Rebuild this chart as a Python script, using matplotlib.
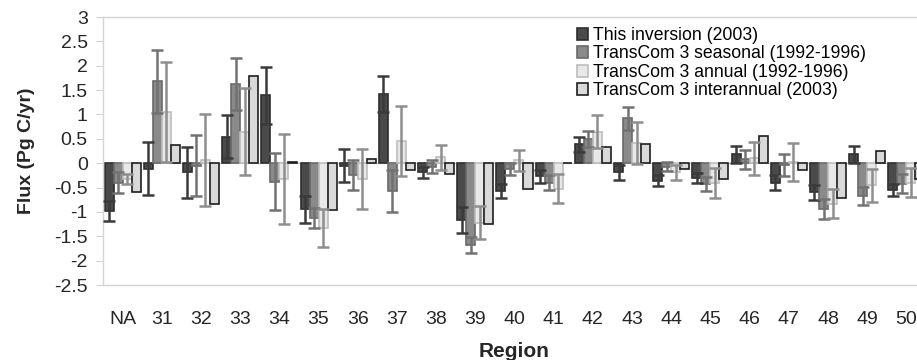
#! /usr/bin/env python3
import numpy as np
import matplotlib.pyplot as plt

plt.rcParams['font.family'] = ['Liberation Sans', 'DejaVu Sans']

regions = ["NA", "31", "32", "33", "34", "35", "36", "37", "38", "39", "40",
           "41", "42", "43", "44", "45", "46", "47", "48", "49", "50"]

# This inversion (2003)
inv = [-0.98, -0.11, -0.19, 0.54, 1.39, -0.95, -0.05, 1.42, -0.19, -1.16, -0.57,
       -0.27, 0.39, -0.19, -0.36, -0.30, 0.18, -0.40, -0.60, 0.18, -0.55]
inv_err = [0.20, 0.55, 0.53, 0.44, 0.58, 0.27, 0.34, 0.37, 0.11, 0.27, 0.14,
           0.13, 0.15, 0.15, 0.11, 0.10, 0.17, 0.16, 0.15, 0.17, 0.12]

# TransCom 3 seasonal (1992-1996)
seas = [-0.40, 1.68, -0.05, 1.62, -0.38, -1.12, -0.24, -0.57, -0.07, -1.68, -0.12,
        -0.40, 0.50, 0.92, -0.07, -0.43, 0.08, -0.04, -0.94, -0.67, -0.42]
seas_err = [0.22, 0.65, 0.63, 0.53, 0.58, 0.20, 0.30, 0.43, 0.14, 0.16, 0.12,
            0.15, 0.16, 0.23, 0.09, 0.14, 0.20, 0.22, 0.20, 0.18, 0.20]

# TransCom 3 annual (1992-1996)
ann = [-0.32, 1.05, 0.07, 0.65, -0.33, -1.33, -0.32, 0.46, 0.12, -1.22, 0.06,
       -0.52, 0.65, 0.42, -0.19, -0.41, 0.10, 0.02, -0.83, -0.45, -0.40]
ann_err = [0.10, 1.02, 0.95, 0.90, 0.92, 0.38, 0.62, 0.72, 0.25, 0.34, 0.22,
           0.30, 0.33, 0.43, 0.16, 0.31, 0.34, 0.39, 0.30, 0.34, 0.30]

# TransCom 3 interannual (2003)
inter = [-0.59, 0.37, -0.83, 1.79, 0.02, -0.97, 0.08, -0.14, -0.23, -1.25, -0.52,
         0.0, 0.34, 0.40, -0.12, -0.32, 0.55, -0.14, -0.72, 0.25, -0.33]

labels = ["This inversion (2003)", "TransCom 3 seasonal (1992-1996)",
          "TransCom 3 annual (1992-1996)", "TransCom 3 interannual (2003)"]

fig = plt.figure(figsize=(9.17, 3.6), dpi=100)
ax = fig.add_axes([0.1123, 0.2083, 0.8975, 0.7444])

x = np.arange(len(regions))
w = 0.23
series = [(inv, inv_err, "#4a4a4a", "#2e2e2e", "#3a3a3a"),
          (seas, seas_err, "#8a8a8a", "#6a6a6a", "#727272"),
          (ann, ann_err, "#e8e8e8", "#bdbdbd", "#8e8e8e"),
          (inter, None, "#d9d9d9", "#1e1e1e", None)]
offsets = [-1.5 * w, -0.5 * w, 0.5 * w, 1.5 * w]

ax.axhline(0, color="#c4c4c4", lw=0.8, zorder=1)
for (vals, err, fc, ec, errc), off, lab in zip(series, offsets, labels):
    ax.bar(x + off, vals, w, color=fc, edgecolor=ec, linewidth=1.2,
           label=lab, zorder=2)
    if err is not None:
        ax.errorbar(x + off, vals, yerr=err, fmt="none", ecolor=errc,
                    elinewidth=1.8, capsize=4.5, capthick=1.8, zorder=3)

ax.set_xlim(-0.5, len(regions) - 0.5)
ax.set_ylim(-2.5, 3)
ax.set_yticks(np.arange(-2.5, 3.01, 0.5))
ax.set_yticklabels(["%g" % v for v in np.arange(-2.5, 3.01, 0.5)])
ax.set_xticks(x)
ax.set_xticklabels(regions)
ax.tick_params(axis="x", length=0, pad=19, labelsize=14, labelcolor="#262626")
ax.tick_params(axis="y", length=5, width=0.8, color="#d0d0d0", pad=6,
               labelsize=14, labelcolor="#262626")

for s in ["top", "bottom", "left"]:
    ax.spines[s].set_color("#d4d4d4")
    ax.spines[s].set_linewidth(1.0)
ax.spines["right"].set_visible(False)

ax.set_ylabel("Flux (Pg C/yr)", fontsize=14, fontweight="bold", labelpad=14,
              color="#262626")
ax.set_xlabel("Region", fontsize=15, fontweight="bold", labelpad=10,
              color="#262626")

ax.legend(loc="upper left", bbox_to_anchor=(577 / 917, 1 - 27 / 360),
          bbox_transform=fig.transFigure, frameon=False, fontsize=12.7,
          handlelength=0.65, handleheight=0.65, handletextpad=0.25,
          labelspacing=0.08, borderpad=0, borderaxespad=0)

plt.savefig("out.png", dpi=100)
